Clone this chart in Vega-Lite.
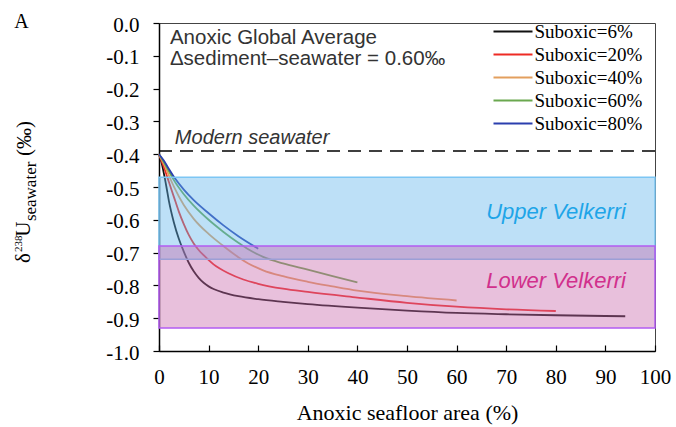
{
  "$schema": "https://vega.github.io/schema/vega-lite/v6.json",
  "width": 496,
  "height": 328,
  "autosize": {"type": "none"},
  "padding": {"left": 159, "top": 23, "right": 21, "bottom": 76},
  "background": "white",
  "config": {
    "view": {"stroke": "#444444", "strokeWidth": 1},
    "font": "Liberation Serif",
    "axis": {"labelOverlap": false, "labelFlush": false, "grid": false, "tickCount": 12}
  },
  "datasets": {
    "curves": [
      {"series": "Suboxic=6%", "area": 0, "d238U": -0.400},
      {"series": "Suboxic=6%", "area": 0.5, "d238U": -0.425},
      {"series": "Suboxic=6%", "area": 1, "d238U": -0.460},
      {"series": "Suboxic=6%", "area": 1.5, "d238U": -0.500},
      {"series": "Suboxic=6%", "area": 2, "d238U": -0.543},
      {"series": "Suboxic=6%", "area": 3, "d238U": -0.608},
      {"series": "Suboxic=6%", "area": 4, "d238U": -0.658},
      {"series": "Suboxic=6%", "area": 5, "d238U": -0.697},
      {"series": "Suboxic=6%", "area": 6, "d238U": -0.731},
      {"series": "Suboxic=6%", "area": 7, "d238U": -0.757},
      {"series": "Suboxic=6%", "area": 8, "d238U": -0.777},
      {"series": "Suboxic=6%", "area": 9, "d238U": -0.792},
      {"series": "Suboxic=6%", "area": 10, "d238U": -0.803},
      {"series": "Suboxic=6%", "area": 11, "d238U": -0.811},
      {"series": "Suboxic=6%", "area": 13, "d238U": -0.822},
      {"series": "Suboxic=6%", "area": 16, "d238U": -0.833},
      {"series": "Suboxic=6%", "area": 20, "d238U": -0.842},
      {"series": "Suboxic=6%", "area": 25, "d238U": -0.850},
      {"series": "Suboxic=6%", "area": 30, "d238U": -0.857},
      {"series": "Suboxic=6%", "area": 40, "d238U": -0.868},
      {"series": "Suboxic=6%", "area": 50, "d238U": -0.877},
      {"series": "Suboxic=6%", "area": 60, "d238U": -0.884},
      {"series": "Suboxic=6%", "area": 70, "d238U": -0.888},
      {"series": "Suboxic=6%", "area": 80, "d238U": -0.891},
      {"series": "Suboxic=6%", "area": 94, "d238U": -0.894},
      {"series": "Suboxic=20%", "area": 0, "d238U": -0.400},
      {"series": "Suboxic=20%", "area": 1, "d238U": -0.440},
      {"series": "Suboxic=20%", "area": 2, "d238U": -0.485},
      {"series": "Suboxic=20%", "area": 3, "d238U": -0.530},
      {"series": "Suboxic=20%", "area": 4, "d238U": -0.575},
      {"series": "Suboxic=20%", "area": 5, "d238U": -0.613},
      {"series": "Suboxic=20%", "area": 6, "d238U": -0.646},
      {"series": "Suboxic=20%", "area": 7, "d238U": -0.672},
      {"series": "Suboxic=20%", "area": 8, "d238U": -0.692},
      {"series": "Suboxic=20%", "area": 9, "d238U": -0.708},
      {"series": "Suboxic=20%", "area": 11, "d238U": -0.736},
      {"series": "Suboxic=20%", "area": 14, "d238U": -0.763},
      {"series": "Suboxic=20%", "area": 17, "d238U": -0.782},
      {"series": "Suboxic=20%", "area": 20, "d238U": -0.795},
      {"series": "Suboxic=20%", "area": 25, "d238U": -0.810},
      {"series": "Suboxic=20%", "area": 30, "d238U": -0.820},
      {"series": "Suboxic=20%", "area": 40, "d238U": -0.837},
      {"series": "Suboxic=20%", "area": 50, "d238U": -0.853},
      {"series": "Suboxic=20%", "area": 60, "d238U": -0.865},
      {"series": "Suboxic=20%", "area": 70, "d238U": -0.873},
      {"series": "Suboxic=20%", "area": 80, "d238U": -0.878},
      {"series": "Suboxic=40%", "area": 0, "d238U": -0.400},
      {"series": "Suboxic=40%", "area": 1, "d238U": -0.430},
      {"series": "Suboxic=40%", "area": 2, "d238U": -0.465},
      {"series": "Suboxic=40%", "area": 3, "d238U": -0.499},
      {"series": "Suboxic=40%", "area": 5, "d238U": -0.555},
      {"series": "Suboxic=40%", "area": 7, "d238U": -0.597},
      {"series": "Suboxic=40%", "area": 10, "d238U": -0.643},
      {"series": "Suboxic=40%", "area": 13, "d238U": -0.680},
      {"series": "Suboxic=40%", "area": 16, "d238U": -0.714},
      {"series": "Suboxic=40%", "area": 18, "d238U": -0.733},
      {"series": "Suboxic=40%", "area": 21, "d238U": -0.754},
      {"series": "Suboxic=40%", "area": 25, "d238U": -0.772},
      {"series": "Suboxic=40%", "area": 30, "d238U": -0.789},
      {"series": "Suboxic=40%", "area": 35, "d238U": -0.803},
      {"series": "Suboxic=40%", "area": 40, "d238U": -0.816},
      {"series": "Suboxic=40%", "area": 50, "d238U": -0.833},
      {"series": "Suboxic=40%", "area": 60, "d238U": -0.846},
      {"series": "Suboxic=60%", "area": 0, "d238U": -0.400},
      {"series": "Suboxic=60%", "area": 1, "d238U": -0.425},
      {"series": "Suboxic=60%", "area": 2, "d238U": -0.452},
      {"series": "Suboxic=60%", "area": 3, "d238U": -0.479},
      {"series": "Suboxic=60%", "area": 5, "d238U": -0.522},
      {"series": "Suboxic=60%", "area": 7, "d238U": -0.557},
      {"series": "Suboxic=60%", "area": 10, "d238U": -0.600},
      {"series": "Suboxic=60%", "area": 13, "d238U": -0.637},
      {"series": "Suboxic=60%", "area": 16, "d238U": -0.670},
      {"series": "Suboxic=60%", "area": 18, "d238U": -0.690},
      {"series": "Suboxic=60%", "area": 21, "d238U": -0.713},
      {"series": "Suboxic=60%", "area": 25, "d238U": -0.733},
      {"series": "Suboxic=60%", "area": 30, "d238U": -0.752},
      {"series": "Suboxic=60%", "area": 35, "d238U": -0.772},
      {"series": "Suboxic=60%", "area": 40, "d238U": -0.791},
      {"series": "Suboxic=80%", "area": 0, "d238U": -0.400},
      {"series": "Suboxic=80%", "area": 1, "d238U": -0.420},
      {"series": "Suboxic=80%", "area": 2, "d238U": -0.445},
      {"series": "Suboxic=80%", "area": 3, "d238U": -0.469},
      {"series": "Suboxic=80%", "area": 5, "d238U": -0.508},
      {"series": "Suboxic=80%", "area": 7, "d238U": -0.540},
      {"series": "Suboxic=80%", "area": 10, "d238U": -0.580},
      {"series": "Suboxic=80%", "area": 13, "d238U": -0.617},
      {"series": "Suboxic=80%", "area": 16, "d238U": -0.650},
      {"series": "Suboxic=80%", "area": 20, "d238U": -0.688}
    ],
    "upper": [{"band": "Upper Velkerri", "lo": -0.72, "hi": -0.47}],
    "lower": [{"band": "Lower Velkerri", "lo": -0.93, "hi": -0.68}]
  },
  "layer": [
    {
      "data": {"name": "curves"},
      "mark": {"type": "line", "strokeWidth": 1.8, "interpolate": "monotone"},
      "encoding": {
        "x": {
          "field": "area", "type": "quantitative",
          "scale": {"domain": [0, 100], "nice": false},
          "axis": {
            "values": [0, 10, 20, 30, 40, 50, 60, 70, 80, 90, 100],
            "tickCount": 12,
            "title": "Anoxic seafloor area (%)",
            "grid": false, "tickSize": -6, "labelPadding": 21,
            "labelFont": "Liberation Serif", "labelFontSize": 21, "labelColor": "black",
            "labelFlush": false, "labelOverlap": false,
            "titleFont": "Liberation Serif", "titleFontSize": 22, "titleFontWeight": "normal",
            "titleColor": "black", "titlePadding": 15,
            "domainColor": "black", "domainWidth": 1.5, "tickColor": "black", "tickWidth": 1.2
          }
        },
        "y": {
          "field": "d238U", "type": "quantitative",
          "scale": {"domain": [-1, 0], "nice": false},
          "axis": {
            "values": [-1, -0.9, -0.8, -0.7, -0.6, -0.5, -0.4, -0.3, -0.2, -0.1, 0],
            "tickCount": 12,
            "labelExpr": "datum.value > -0.001 ? '0.0' : '-' + format(-datum.value, '.1f')",
            "title": null, "grid": false, "tickSize": 6, "labelPadding": 14,
            "labelFont": "Liberation Serif", "labelFontSize": 21, "labelColor": "black",
            "labelFlush": false, "labelOverlap": false, "labelOffset": 2,
            "domainColor": "black", "domainWidth": 1.5, "tickColor": "black", "tickWidth": 1.2
          }
        },
        "color": {
          "field": "series", "type": "nominal",
          "scale": {
            "domain": ["Suboxic=6%", "Suboxic=20%", "Suboxic=40%", "Suboxic=60%", "Suboxic=80%"],
            "range": ["#111111", "#ee2b24", "#e39f5e", "#6aa84f", "#2b3fae"]
          },
          "legend": {
            "orient": "none", "legendX": 344.5, "legendY": -1, "title": null,
            "symbolType": "M-3.9,0H3.9", "symbolSize": 100, "symbolStrokeWidth": 1.8,
            "labelFont": "Liberation Serif", "labelFontSize": 19, "labelColor": "black",
            "labelOffset": 12, "rowPadding": 3, "padding": 0
          }
        }
      }
    },
    {
      "data": {"name": "upper"},
      "mark": {"type": "rect", "fill": "#62b5ec", "fillOpacity": 0.42, "stroke": "#7cc6f4", "strokeWidth": 1.5},
      "encoding": {
        "x": {"datum": 0, "type": "quantitative"},
        "x2": {"datum": 100},
        "y": {"field": "lo", "type": "quantitative"},
        "y2": {"field": "hi"}
      }
    },
    {
      "data": {"name": "lower"},
      "mark": {"type": "rect", "fill": "#c869ab", "fillOpacity": 0.42, "stroke": "#b35cf2", "strokeWidth": 1.5},
      "encoding": {
        "x": {"datum": 0, "type": "quantitative"},
        "x2": {"datum": 100},
        "y": {"field": "lo", "type": "quantitative"},
        "y2": {"field": "hi"}
      }
    },
    {
      "data": {"values": [{"line": "Modern seawater"}]},
      "mark": {"type": "rule", "color": "black", "strokeWidth": 1.5, "strokeDash": [13, 8]},
      "encoding": {"y": {"datum": -0.39, "type": "quantitative"}}
    },
    {
      "data": {"values": [{"label": "Modern seawater"}]},
      "mark": {"type": "text", "font": "Liberation Sans", "fontStyle": "italic", "fontSize": 20, "color": "#333333", "align": "left", "baseline": "alphabetic"},
      "encoding": {"x": {"datum": 3.2, "type": "quantitative"}, "y": {"datum": -0.369, "type": "quantitative"}, "text": {"field": "label"}}
    },
    {
      "data": {"values": [{"label": "Anoxic Global Average"}]},
      "mark": {"type": "text", "font": "Liberation Sans", "fontSize": 20.5, "color": "#333333", "align": "left", "baseline": "alphabetic", "lineHeight": 21, "text": ["Anoxic Global Average", "Δsediment–seawater = 0.60‰"]},
      "encoding": {"x": {"datum": 2.2, "type": "quantitative"}, "y": {"datum": -0.064, "type": "quantitative"}}
    },
    {
      "data": {"values": [{"label": "Upper Velkerri"}]},
      "mark": {"type": "text", "font": "Liberation Sans", "fontStyle": "italic", "fontSize": 22, "color": "#1ea5e8", "align": "right", "baseline": "alphabetic"},
      "encoding": {"x": {"datum": 94.15, "type": "quantitative"}, "y": {"datum": -0.598, "type": "quantitative"}, "text": {"field": "label"}}
    },
    {
      "data": {"values": [{"label": "Lower Velkerri"}]},
      "mark": {"type": "text", "font": "Liberation Sans", "fontStyle": "italic", "fontSize": 22, "color": "#d1308c", "align": "right", "baseline": "alphabetic"},
      "encoding": {"x": {"datum": 94.15, "type": "quantitative"}, "y": {"datum": -0.808, "type": "quantitative"}, "text": {"field": "label"}}
    },
    {
      "data": {"values": [{"label": "A"}]},
      "mark": {"type": "text", "font": "Liberation Serif", "fontSize": 20, "color": "black", "align": "left", "baseline": "alphabetic"},
      "encoding": {"x": {"datum": -29.2, "type": "quantitative"}, "y": {"datum": -0.015, "type": "quantitative"}, "text": {"field": "label"}}
    },
    {
      "data": {"values": [{"label": "δ"}]},
      "mark": {"type": "text", "font": "Liberation Serif", "fontSize": 21, "color": "black", "align": "left", "baseline": "alphabetic", "angle": 270},
      "encoding": {"x": {"datum": -26.0, "type": "quantitative"}, "y": {"datum": -0.732, "type": "quantitative"}, "text": {"field": "label"}}
    },
    {
      "data": {"values": [{"label": "238"}]},
      "mark": {"type": "text", "font": "Liberation Serif", "fontSize": 11, "color": "black", "align": "left", "baseline": "alphabetic", "angle": 270},
      "encoding": {"x": {"datum": -27.7, "type": "quantitative"}, "y": {"datum": -0.698, "type": "quantitative"}, "text": {"field": "label"}}
    },
    {
      "data": {"values": [{"label": "U"}]},
      "mark": {"type": "text", "font": "Liberation Serif", "fontSize": 21, "color": "black", "align": "left", "baseline": "alphabetic", "angle": 270},
      "encoding": {"x": {"datum": -26.0, "type": "quantitative"}, "y": {"datum": -0.652, "type": "quantitative"}, "text": {"field": "label"}}
    },
    {
      "data": {"values": [{"label": "seawater"}]},
      "mark": {"type": "text", "font": "Liberation Serif", "fontSize": 17, "color": "black", "align": "left", "baseline": "alphabetic", "angle": 270},
      "encoding": {"x": {"datum": -24.8, "type": "quantitative"}, "y": {"datum": -0.604, "type": "quantitative"}, "text": {"field": "label"}}
    },
    {
      "data": {"values": [{"label": "(‰)"}]},
      "mark": {"type": "text", "font": "Liberation Serif", "fontSize": 21, "color": "black", "align": "left", "baseline": "alphabetic", "angle": 270},
      "encoding": {"x": {"datum": -25.8, "type": "quantitative"}, "y": {"datum": -0.4055, "type": "quantitative"}, "text": {"field": "label"}}
    }
  ]
}
